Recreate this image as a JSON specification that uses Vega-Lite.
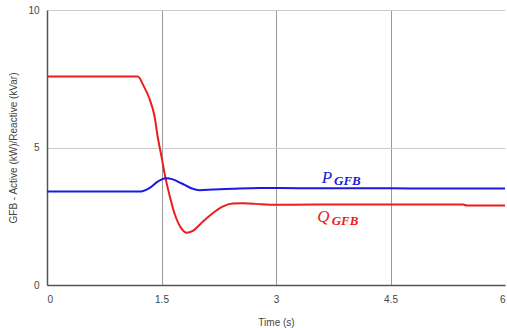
{
  "$schema": "https://vega.github.io/schema/vega-lite/v6.json",
  "autosize": "none",
  "width": 458,
  "height": 275,
  "padding": {"left": 47, "top": 10, "right": 2, "bottom": 43},
  "background": "white",
  "config": {
    "view": {"stroke": null},
    "axis": {
      "labelFont": "Liberation Sans",
      "labelFontSize": 10,
      "labelColor": "#444",
      "titleFont": "Liberation Sans",
      "titleFontSize": 10,
      "titleFontWeight": "normal",
      "titleColor": "#444",
      "domainColor": "#555",
      "domainWidth": 1.5,
      "ticks": false,
      "gridWidth": 1
    }
  },
  "datasets": {
    "series": [
      {"t": 0, "v": 7.58, "s": "Q"},
      {"t": 1.19, "v": 7.58, "s": "Q"},
      {"t": 1.26, "v": 7.27, "s": "Q"},
      {"t": 1.34, "v": 6.79, "s": "Q"},
      {"t": 1.41, "v": 6.12, "s": "Q"},
      {"t": 1.45, "v": 5.39, "s": "Q"},
      {"t": 1.5, "v": 4.67, "s": "Q"},
      {"t": 1.54, "v": 4.06, "s": "Q"},
      {"t": 1.61, "v": 3.21, "s": "Q"},
      {"t": 1.67, "v": 2.61, "s": "Q"},
      {"t": 1.76, "v": 2.06, "s": "Q"},
      {"t": 1.83, "v": 1.9, "s": "Q"},
      {"t": 1.91, "v": 1.97, "s": "Q"},
      {"t": 2.04, "v": 2.3, "s": "Q"},
      {"t": 2.17, "v": 2.61, "s": "Q"},
      {"t": 2.3, "v": 2.85, "s": "Q"},
      {"t": 2.43, "v": 2.96, "s": "Q"},
      {"t": 2.57, "v": 2.97, "s": "Q"},
      {"t": 2.74, "v": 2.95, "s": "Q"},
      {"t": 2.92, "v": 2.92, "s": "Q"},
      {"t": 3.22, "v": 2.92, "s": "Q"},
      {"t": 3.83, "v": 2.93, "s": "Q"},
      {"t": 5.45, "v": 2.93, "s": "Q"},
      {"t": 5.5, "v": 2.89, "s": "Q"},
      {"t": 6, "v": 2.89, "s": "Q"},
      {"t": 0, "v": 3.4, "s": "P"},
      {"t": 1.23, "v": 3.4, "s": "P"},
      {"t": 1.34, "v": 3.52, "s": "P"},
      {"t": 1.45, "v": 3.76, "s": "P"},
      {"t": 1.56, "v": 3.88, "s": "P"},
      {"t": 1.65, "v": 3.84, "s": "P"},
      {"t": 1.76, "v": 3.7, "s": "P"},
      {"t": 1.89, "v": 3.52, "s": "P"},
      {"t": 2.0, "v": 3.45, "s": "P"},
      {"t": 2.17, "v": 3.47, "s": "P"},
      {"t": 2.43, "v": 3.5, "s": "P"},
      {"t": 2.79, "v": 3.53, "s": "P"},
      {"t": 3.31, "v": 3.52, "s": "P"},
      {"t": 4.0, "v": 3.52, "s": "P"},
      {"t": 5.0, "v": 3.51, "s": "P"},
      {"t": 6, "v": 3.51, "s": "P"}
    ],
    "mainLabels": [
      {"t": 3.6, "v": 3.72, "txt": "P", "s": "P"},
      {"t": 3.54, "v": 2.3, "txt": "Q", "s": "Q"}
    ],
    "subLabels": [
      {"t": 3.76, "v": 3.64, "txt": "GFB", "s": "P"},
      {"t": 3.73, "v": 2.17, "txt": "GFB", "s": "Q"}
    ]
  },
  "layer": [
    {
      "data": {"name": "series"},
      "mark": {"type": "line", "strokeWidth": 2, "interpolate": "monotone"},
      "encoding": {
        "x": {
          "field": "t", "type": "quantitative",
          "scale": {"domain": [0, 6], "nice": false},
          "axis": {
            "values": [0, 1.5, 3, 4.5, 6],
            "format": "~r",
            "title": "Time (s)",
            "labelPadding": 9,
            "titlePadding": 13,
            "gridColor": "#999",
            "gridOpacity": {"condition": {"test": "datum.value == 0 || datum.value == 6", "value": 0}, "value": 1}
          }
        },
        "y": {
          "field": "v", "type": "quantitative",
          "scale": {"domain": [0, 10], "nice": false},
          "axis": {
            "values": [0, 5, 10],
            "format": "~r",
            "title": "GFB - Active (kW)/Reactive (kVar)",
            "labelPadding": 8,
            "titlePadding": 9,
            "gridColor": "#ccc"
          }
        },
        "color": {
          "field": "s", "type": "nominal",
          "scale": {"domain": ["P", "Q"], "range": ["#1a1ae0", "#ee1c1c"]},
          "legend": null
        },
        "detail": {"field": "s"}
      }
    },
    {
      "data": {"name": "mainLabels"},
      "mark": {"type": "text", "font": "Liberation Serif", "fontStyle": "italic", "fontSize": 17, "align": "left", "baseline": "alphabetic"},
      "encoding": {
        "x": {"field": "t", "type": "quantitative"},
        "y": {"field": "v", "type": "quantitative"},
        "text": {"field": "txt"},
        "color": {"field": "s", "type": "nominal", "legend": null}
      }
    },
    {
      "data": {"name": "subLabels"},
      "mark": {"type": "text", "font": "Liberation Serif", "fontStyle": "italic", "fontWeight": "bold", "fontSize": 13, "align": "left", "baseline": "alphabetic"},
      "encoding": {
        "x": {"field": "t", "type": "quantitative"},
        "y": {"field": "v", "type": "quantitative"},
        "text": {"field": "txt"},
        "color": {"field": "s", "type": "nominal", "legend": null}
      }
    }
  ]
}
